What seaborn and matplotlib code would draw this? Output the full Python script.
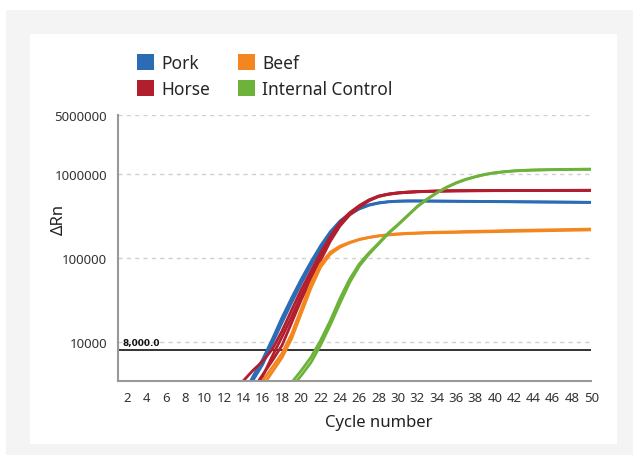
import pandas as pd
import seaborn as sns
import matplotlib.pyplot as plt
from matplotlib.patches import Rectangle, Patch

# qPCR amplification curves (delta Rn per cycle)
pork_cycles = list(range(14, 51))
pork_rep1 = [2000, 3500, 5400, 9600, 17000, 29500, 50000, 82000, 128000, 192000,
             262000, 327000, 382000, 422000, 448000, 463000, 471000, 474000, 474000, 473000,
             472000, 471000, 470000, 469000, 468000, 467000, 466000, 465000, 464000, 463000,
             462000, 461000, 460000, 459000, 458000, 457000, 456000]
pork_rep2 = [2300, 3900, 6200, 10800, 19500, 33500, 56000, 90000, 140000, 205000,
             275000, 337000, 390000, 428000, 452000, 466000, 473000, 476000, 476000, 475000,
             474000, 473000, 472000, 471000, 470000, 469000, 468000, 467000, 466000, 465000,
             464000, 463000, 462000, 461000, 460000, 459000, 458000]

horse_cycles = list(range(13, 51))
horse_rep1 = [2500, 3450, 4600, 5900, 8200, 13500, 24000, 42000, 70000, 115000,
              180000, 265000, 345000, 420000, 490000, 545000, 575000, 595000, 607000, 615000,
              620000, 624000, 627000, 629000, 630000, 631000, 632000, 632000, 633000, 633000,
              634000, 634000, 635000, 635000, 636000, 636000, 637000, 637000]
horse_rep2 = [1400, 1900, 2750, 4070, 6000, 9100, 17000, 32000, 55000, 94000,
              158000, 240000, 324000, 400000, 479000, 537000, 569000, 589000, 601000, 610000,
              616000, 620000, 624000, 626000, 627000, 628000, 629000, 630000, 630000, 631000,
              631000, 632000, 632000, 632000, 633000, 633000, 633000, 634000]
horse_rep3 = [1300, 1800, 2600, 3900, 6800, 11500, 20000, 36000, 62000, 104000,
              170000, 252000, 335000, 410000, 484000, 540000, 572000, 592000, 604000, 612000,
              618000, 622000, 625000, 627000, 628000, 629000, 630000, 631000, 631000, 632000,
              632000, 633000, 633000, 634000, 634000, 635000, 635000, 636000]

beef_cycles = list(range(15, 51))
beef_rep1 = [2400, 3470, 5000, 7300, 12500, 25000, 50000, 85000, 117000, 138000,
             153000, 166000, 175000, 182000, 187000, 191000, 194000, 196000, 198000, 199000,
             200000, 201000, 202000, 203000, 204000, 205000, 206000, 207000, 208000, 209000,
             210000, 211000, 212000, 213000, 214000, 215000]
beef_rep2 = [2000, 3000, 4400, 6500, 11000, 22000, 44000, 78000, 111000, 134000,
             151000, 165000, 175000, 183000, 189000, 193000, 196000, 198000, 200000, 202000,
             203000, 204000, 206000, 207000, 208000, 209000, 211000, 212000, 213000, 214000,
             215000, 216000, 217000, 218000, 219000, 220000]

ic_cycles = list(range(18, 51))
ic_rep1 = [2400, 3300, 4600, 6600, 10500, 18000, 33000, 56000, 85000, 115000,
           150000, 198000, 250000, 320000, 410000, 500000, 595000, 690000, 780000, 860000,
           925000, 985000, 1030000, 1060000, 1085000, 1100000, 1110000, 1116000, 1122000, 1126000,
           1130000, 1133000, 1135000]
ic_rep2 = [2100, 2900, 4000, 5700, 9200, 16000, 29000, 51000, 80000, 111000,
           147000, 195000, 247000, 317000, 407000, 497000, 592000, 687000, 776000, 855000,
           920000, 980000, 1025000, 1056000, 1080000, 1095000, 1105000, 1112000, 1118000, 1122000,
           1126000, 1129000, 1131000]

threshold = 8000
species = ["Pork", "Horse", "Beef", "Internal Control"]
colors = {"Pork": "#2b6cb4", "Horse": "#b11e2d", "Beef": "#f3861f", "Internal Control": "#6db33b"}
y_ticks = [10000, 100000, 1000000, 5000000]
y_tick_labels = ["10000", "100000", "1000000", "5000000"]
x_ticks = list(range(2, 51, 2))

runs = [
    ("Pork", "p1", pork_cycles, pork_rep1),
    ("Pork", "p2", pork_cycles, pork_rep2),
    ("Horse", "h1", horse_cycles, horse_rep1),
    ("Horse", "h2", horse_cycles, horse_rep2),
    ("Horse", "h3", horse_cycles, horse_rep3),
    ("Beef", "b1", beef_cycles, beef_rep1),
    ("Beef", "b2", beef_cycles, beef_rep2),
    ("Internal Control", "i1", ic_cycles, ic_rep1),
    ("Internal Control", "i2", ic_cycles, ic_rep2),
]
frames = []
for name, rep, cyc, vals in runs:
    frames.append(pd.DataFrame({"cycle": cyc, "drn": vals, "target": name, "rep": rep}))
df = pd.concat(frames, ignore_index=True)

sns.set_style("white")
plt.rcParams["font.family"] = ["Noto Sans", "DejaVu Sans"]

fig = plt.figure(figsize=(6.33, 4.56), dpi=100)
fig.patch.set_facecolor("white")
# grey outer card and white inner panel, behind the axes
fig.patches.append(Rectangle((6 / 633, 0), 1, 1 - 11 / 456, transform=fig.transFigure,
                             facecolor="#f4f4f4", edgecolor="none", zorder=-10))
fig.patches.append(Rectangle((30 / 633, 11 / 456), 587 / 633, 410 / 456, transform=fig.transFigure,
                             facecolor="white", edgecolor="none", zorder=-9))

ax = fig.add_axes([0.1858, 0.1629, 0.7486, 0.5827])
ax.set_facecolor("none")

sns.lineplot(data=df, x="cycle", y="drn", hue="target", units="rep", estimator=None,
             palette=colors, hue_order=species, linewidth=2.0, legend=False, ax=ax)

ax.axhline(threshold, color="#222222", linewidth=1.3, zorder=1)
ax.text(1.5, threshold * 1.09, "8,000.0", fontsize=6.5, fontweight="bold", color="#111111",
        family=["DejaVu Sans"], va="bottom", ha="left")

ax.set_yscale("log")
ax.set_ylim(3460, 5000000)
ax.set_xlim(1, 50)
ax.set_yticks(y_ticks)
ax.set_yticklabels(y_tick_labels)
ax.minorticks_off()
ax.set_xticks(x_ticks)
ax.tick_params(axis="both", labelsize=9.5, colors="#333333", length=4, width=1)
ax.tick_params(axis="both", color="#999999")
ax.yaxis.grid(True, color="#d0d0d0", linestyle=(0, (3, 3)), linewidth=1)
ax.xaxis.grid(False)

for side in ["top", "right"]:
    ax.spines[side].set_visible(False)
for side in ["left", "bottom"]:
    ax.spines[side].set_color("#999999")
    ax.spines[side].set_linewidth(1.5)

ax.set_xlabel("Cycle number", fontsize=12, color="#222222")
ax.xaxis.set_label_coords(0.552, -0.125)
ax.set_ylabel("ΔRn", fontsize=12, color="#222222")
ax.yaxis.set_label_coords(-0.108, 0.61)

handles = [Patch(facecolor=colors[s], edgecolor="none") for s in species]
fig.legend(handles, species, ncol=2, loc="upper left", bbox_to_anchor=(137 / 633, 1 - 55 / 456),
           frameon=False, fontsize=12.5, handlelength=1.0, handleheight=1.0, handletextpad=0.4,
           columnspacing=1.6, labelspacing=0.45, borderpad=0, borderaxespad=0)

fig.savefig("out.png", dpi=100)
